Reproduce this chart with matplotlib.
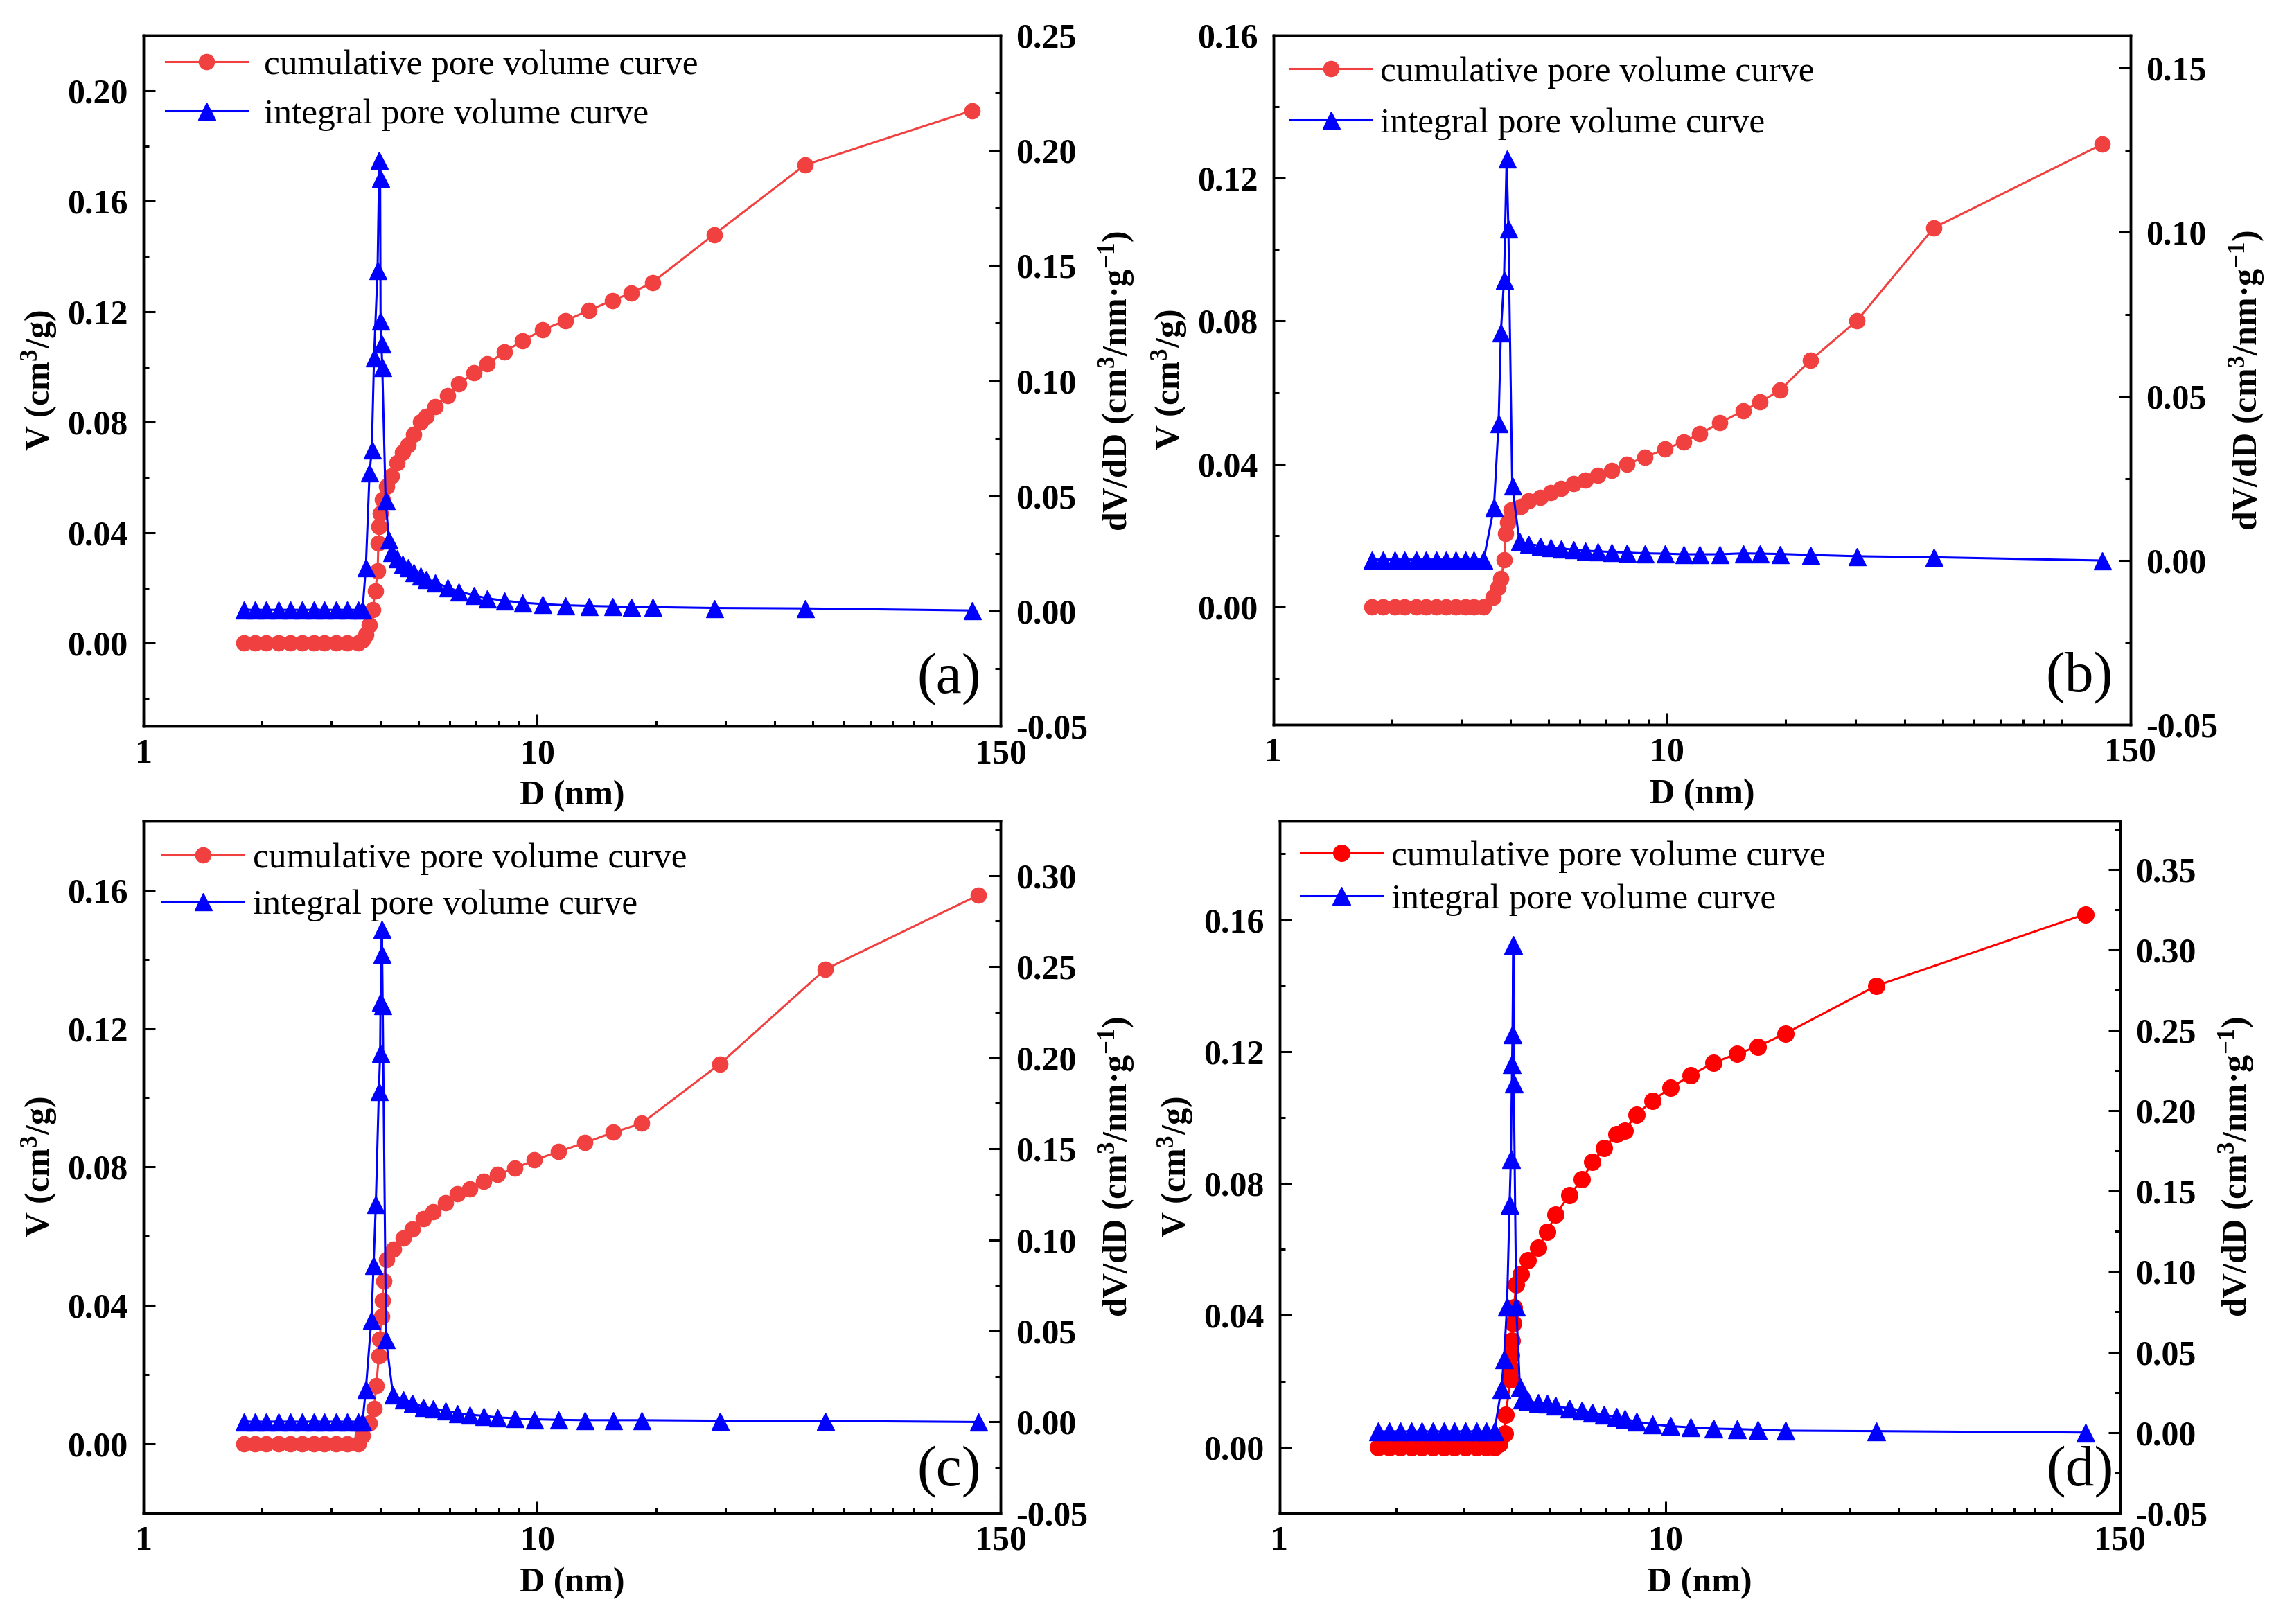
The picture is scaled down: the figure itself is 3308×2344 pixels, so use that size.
import matplotlib.pyplot as plt
from matplotlib.ticker import MultipleLocator, FormatStrFormatter, FixedLocator, NullFormatter

plt.rcParams['font.family'] = ['Liberation Serif', 'DejaVu Serif']
plt.rcParams['font.weight'] = 'bold'
plt.rcParams['axes.labelweight'] = 'bold'
plt.rcParams['mathtext.default'] = 'regular'
plt.rcParams['axes.unicode_minus'] = False

# ---------------- data ----------------
# (a)
d_a_cum = [1.80, 1.92, 2.05, 2.20, 2.36, 2.53, 2.71, 2.88, 3.08, 3.29, 3.51, 3.60, 3.67, 3.75, 3.82,
           3.88, 3.93, 3.95, 3.97, 4.00, 4.05, 4.14, 4.26, 4.40, 4.55, 4.70, 4.86, 5.05, 5.22, 5.50,
           5.92, 6.32, 6.89, 7.47, 8.24, 9.18, 10.3, 11.8, 13.5, 15.5, 17.3, 19.6, 28.1, 47.8, 127]
v_a_cum = [0.0, 0.0, 0.0, 0.0, 0.0, 0.0, 0.0, 0.0, 0.0, 0.0, 0.0, 0.001, 0.003, 0.0066, 0.0122,
           0.0189, 0.0262, 0.0361, 0.0421, 0.0470, 0.0520, 0.0567, 0.0605, 0.0652, 0.0690, 0.0717,
           0.0755, 0.0802, 0.0820, 0.0857, 0.0895, 0.0938, 0.0979, 0.1011, 0.1054, 0.1094, 0.1134,
           0.1168, 0.1204, 0.1241, 0.1267, 0.1306, 0.1479, 0.1731, 0.1928]
d_a_int = [1.80, 1.92, 2.05, 2.20, 2.36, 2.53, 2.71, 2.88, 3.08, 3.29, 3.51, 3.60, 3.67, 3.75, 3.80,
           3.85, 3.93, 3.97, 3.99, 4.00, 4.02, 4.04, 4.12, 4.20, 4.26, 4.40, 4.55, 4.70, 4.86, 5.05,
           5.22, 5.50, 5.92, 6.32, 6.89, 7.47, 8.24, 9.18, 10.3, 11.8, 13.5, 15.5, 17.3, 19.6, 28.1,
           47.8, 127]
dv_a_int = [0.0005, 0.0005, 0.0005, 0.0005, 0.0005, 0.0005, 0.0005, 0.0005, 0.0005, 0.0005, 0.0005,
            0.0005, 0.019, 0.060, 0.070, 0.110, 0.148, 0.196, 0.188, 0.126, 0.116, 0.106, 0.048,
            0.031, 0.0256, 0.0227, 0.0205, 0.0190, 0.0168, 0.0153, 0.0139, 0.0124, 0.0102, 0.0085,
            0.0068, 0.0055, 0.0045, 0.0036, 0.0030, 0.0025, 0.0022, 0.0020, 0.0018, 0.0017, 0.0013,
            0.0011, 0.0002]

# (b)
d_b_cum = [1.78, 1.90, 2.03, 2.15, 2.30, 2.44, 2.59, 2.74, 2.90, 3.07, 3.23, 3.42, 3.61, 3.71, 3.78,
           3.86, 3.89, 3.94, 4.02, 4.24, 4.45, 4.76, 5.05, 5.37, 5.78, 6.19, 6.67, 7.23, 7.89, 8.79,
           9.86, 11.0, 12.1, 13.6, 15.6, 17.2, 19.3, 23.1, 30.3, 47.5, 127]
v_b_cum = [0.0, 0.0, 0.0, 0.0, 0.0, 0.0, 0.0, 0.0, 0.0, 0.0, 0.0, 0.0, 0.0027, 0.0053, 0.0079,
           0.0132, 0.0205, 0.0236, 0.0271, 0.0280, 0.0297, 0.0306, 0.0319, 0.0332, 0.0345, 0.0355,
           0.0368, 0.0381, 0.0399, 0.0419, 0.0441, 0.0462, 0.0484, 0.0515, 0.0549, 0.0573, 0.0606,
           0.0690, 0.0801, 0.1061, 0.1295]
d_b_int = [1.78, 1.90, 2.03, 2.15, 2.30, 2.44, 2.59, 2.74, 2.90, 3.07, 3.23, 3.42, 3.63, 3.73, 3.78,
           3.85, 3.91, 3.95, 4.04, 4.21, 4.45, 4.76, 5.05, 5.37, 5.78, 6.19, 6.67, 7.23, 7.89, 8.79,
           9.86, 11.0, 12.1, 13.6, 15.6, 17.2, 19.3, 23.1, 30.3, 47.5, 127]
dv_b_int = [0.0003, 0.0003, 0.0003, 0.0003, 0.0003, 0.0003, 0.0003, 0.0003, 0.0003, 0.0003, 0.0003,
            0.0003, 0.0163, 0.0419, 0.0694, 0.0855, 0.1225, 0.1012, 0.0229, 0.0060, 0.0050, 0.0045,
            0.0040, 0.0037, 0.0033, 0.0030, 0.0028, 0.0026, 0.0024, 0.0022, 0.0021, 0.0019, 0.0019,
            0.0019, 0.0022, 0.0021, 0.0020, 0.0017, 0.0013, 0.0010, 0.0000]

# (c)
d_c_cum = [1.80, 1.92, 2.05, 2.20, 2.36, 2.53, 2.71, 2.88, 3.08, 3.29, 3.51, 3.60, 3.75, 3.85, 3.90,
           3.96, 3.98, 4.02, 4.04, 4.07, 4.14, 4.32, 4.56, 4.81, 5.14, 5.43, 5.85, 6.26, 6.74, 7.31,
           7.92, 8.77, 9.83, 11.3, 13.2, 15.6, 18.4, 29.1, 53.8, 132]
v_c_cum = [0.0, 0.0, 0.0, 0.0, 0.0, 0.0, 0.0, 0.0, 0.0, 0.0, 0.0, 0.0025, 0.0061, 0.0102, 0.0168,
           0.0255, 0.0302, 0.0368, 0.0414, 0.0471, 0.0532, 0.0563, 0.0594, 0.0620, 0.0650, 0.0671,
           0.0696, 0.0722, 0.0737, 0.0758, 0.0779, 0.0796, 0.0820, 0.0844, 0.0870, 0.0900, 0.0926,
           0.1098, 0.1371, 0.1586]
d_c_int = [1.80, 1.92, 2.05, 2.20, 2.36, 2.53, 2.71, 2.88, 3.08, 3.29, 3.51, 3.60, 3.67, 3.79, 3.84,
           3.89, 3.96, 3.99, 4.00, 4.02, 4.03, 4.05, 4.13, 4.30, 4.56, 4.81, 5.14, 5.43, 5.85, 6.26,
           6.74, 7.31, 7.92, 8.77, 9.83, 11.3, 13.2, 15.6, 18.4, 29.1, 53.8, 132]
dv_c_int = [0.0002, 0.0002, 0.0002, 0.0002, 0.0002, 0.0002, 0.0002, 0.0002, 0.0002, 0.0002, 0.0002,
            0.0002, 0.0181, 0.0561, 0.0863, 0.1195, 0.1818, 0.2024, 0.2306, 0.2569, 0.2706, 0.2287,
            0.0454, 0.0151, 0.0122, 0.0106, 0.0083, 0.0073, 0.0064, 0.0048, 0.0040, 0.0034, 0.0025,
            0.0021, 0.0015, 0.0012, 0.0010, 0.0010, 0.0010, 0.0007, 0.0006, 0.0000]

# (d)
d_d_cum = [1.80, 1.92, 2.05, 2.19, 2.33, 2.49, 2.66, 2.84, 3.03, 3.24, 3.43, 3.60, 3.70, 3.83, 3.85,
           3.96, 3.97, 3.98, 3.99, 4.02, 4.04, 4.10, 4.22, 4.39, 4.67, 4.94, 5.18, 5.63, 6.07, 6.46,
           6.92, 7.46, 7.83, 8.39, 9.24, 10.3, 11.6, 13.3, 15.3, 17.3, 20.4, 35.1, 122]
v_d_cum = [0.0, 0.0, 0.0, 0.0, 0.0, 0.0, 0.0, 0.0, 0.0, 0.0, 0.0, 0.0, 0.0009, 0.0041, 0.0099,
           0.0206, 0.0238, 0.0280, 0.0323, 0.0376, 0.0424, 0.0493, 0.0525, 0.0567, 0.0605, 0.0653,
           0.0706, 0.0764, 0.0812, 0.0865, 0.0908, 0.0950, 0.0961, 0.1009, 0.1051, 0.1091, 0.1128,
           0.1166, 0.1194, 0.1215, 0.1255, 0.1400, 0.1617]
d_d_int = [1.80, 1.92, 2.05, 2.19, 2.33, 2.49, 2.66, 2.84, 3.03, 3.24, 3.43, 3.60, 3.75, 3.81, 3.88,
           3.94, 3.97, 4.00, 4.01, 4.03, 4.04, 4.10, 4.19, 4.25, 4.39, 4.67, 4.94, 5.18, 5.63, 6.07,
           6.46, 6.92, 7.46, 7.83, 8.39, 9.24, 10.3, 11.6, 13.3, 15.3, 17.3, 20.4, 35.1, 122]
dv_d_int = [0.0008, 0.0008, 0.0008, 0.0008, 0.0008, 0.0008, 0.0008, 0.0008, 0.0008, 0.0008, 0.0008,
            0.0008, 0.0270, 0.0456, 0.0783, 0.1416, 0.1699, 0.2288, 0.2473, 0.3030, 0.2168, 0.0783,
            0.0281, 0.0205, 0.0195, 0.0185, 0.0178, 0.0165, 0.0150, 0.0138, 0.0125, 0.0110, 0.0096,
            0.0085, 0.0068, 0.0052, 0.0040, 0.0032, 0.0025, 0.0022, 0.0018, 0.0012, 0.0009, 0.0000]

x_ticks = [1, 10, 150]
x_tick_labels = ['1', '10', '150']
x_minor = [2, 3, 4, 5, 6, 7, 8, 9, 20, 30, 40, 50, 60, 70, 80, 90, 100]

panels = [
    dict(box=[0.0626, 0.5529, 0.3739, 0.4253], cum=(d_a_cum, v_a_cum), integ=(d_a_int, dv_a_int),
         vlim=(-0.03, 0.22), dvlim=(-0.05, 0.25), tag='(a)', tag_x=0.977, tag_y=0.03,
         red='#F04040', leg=(0.026, 0.980), spacing=0.47, textpad=0.45, ms=(16, 18)),
    dict(box=[0.5556, 0.5538, 0.3739, 0.4244], cum=(d_b_cum, v_b_cum), integ=(d_b_int, dv_b_int),
         vlim=(-0.033, 0.16), dvlim=(-0.05, 0.16), tag='(b)', tag_x=0.98, tag_y=0.03,
         red='#F04040', leg=(0.019, 0.970), spacing=0.52, textpad=0.25, ms=(16, 18)),
    dict(box=[0.0626, 0.0683, 0.3739, 0.4262], cum=(d_c_cum, v_c_cum), integ=(d_c_int, dv_c_int),
         vlim=(-0.02, 0.18), dvlim=(-0.05, 0.33), tag='(c)', tag_x=0.977, tag_y=0.022,
         red='#F04040', leg=(0.022, 0.969), spacing=0.39, textpad=0.25, ms=(16, 18)),
    dict(box=[0.5583, 0.0683, 0.3666, 0.4262], cum=(d_d_cum, v_d_cum), integ=(d_d_int, dv_d_int),
         vlim=(-0.02, 0.19), dvlim=(-0.05, 0.38), tag='(d)', tag_x=0.993, tag_y=0.022,
         red='#FF0000', leg=(0.025, 0.972), spacing=0.30, textpad=0.25, ms=(17, 19)),
]

fig = plt.figure(figsize=(33.08, 23.44), dpi=100)

for p in panels:
    ax = fig.add_axes(p['box'])
    ax.set_xscale('log')
    ax2 = ax.twinx()

    l1, = ax.plot(p['cum'][0], p['cum'][1], '-o', color=p['red'], ms=p['ms'][0], lw=2.2,
                  label='cumulative pore volume curve')
    l2, = ax2.plot(p['integ'][0], p['integ'][1], '-^', color='#0000FF', ms=p['ms'][1], lw=2.2,
                   label='integral pore volume curve')

    ax.set_xlim(1, 150)
    ax.set_xticks(x_ticks)
    ax.set_xticklabels(x_tick_labels)
    ax.xaxis.set_minor_locator(FixedLocator(x_minor))
    ax.xaxis.set_minor_formatter(NullFormatter())

    ax.set_ylim(*p['vlim'])
    ax.yaxis.set_major_locator(MultipleLocator(0.04))
    ax.yaxis.set_minor_locator(MultipleLocator(0.02))
    ax.yaxis.set_major_formatter(FormatStrFormatter('%.2f'))

    ax2.set_ylim(*p['dvlim'])
    ax2.yaxis.set_major_locator(MultipleLocator(0.05))
    ax2.yaxis.set_minor_locator(MultipleLocator(0.025))
    ax2.yaxis.set_major_formatter(FormatStrFormatter('%.2f'))

    ax.tick_params(which='both', direction='in', width=2.2, labelsize=36, top=False, right=False)
    ax.tick_params(which='major', length=12)
    ax.tick_params(which='minor', length=6)
    ax.tick_params(axis='x', pad=13)
    ax.tick_params(axis='y', pad=16)
    ax2.tick_params(which='both', direction='in', width=2.2, labelsize=36, pad=16)
    ax2.tick_params(which='major', length=12)
    ax2.tick_params(which='minor', length=6)

    for s in list(ax.spines.values()) + list(ax2.spines.values()):
        s.set_linewidth(2.5)

    ax.set_xlabel('D (nm)', fontsize=36, labelpad=10)
    ax.set_ylabel('V (cm$^3$/g)', fontsize=36, labelpad=9)
    ax2.set_ylabel('dV/dD (cm$^3$/nm·g$^{-1}$)', fontsize=36, labelpad=10)

    ax2.legend(handles=[l1, l2], loc='upper left', bbox_to_anchor=p['leg'], frameon=False,
               prop={'size': 37, 'weight': 'normal'}, handlelength=2.3,
               handletextpad=p['textpad'], labelspacing=p['spacing'],
               borderpad=0, borderaxespad=0)

    ax2.text(p['tag_x'], p['tag_y'], p['tag'], transform=ax2.transAxes, ha='right', va='bottom',
             fontsize=60, fontweight='normal')

fig.savefig('out.png', dpi=100)
